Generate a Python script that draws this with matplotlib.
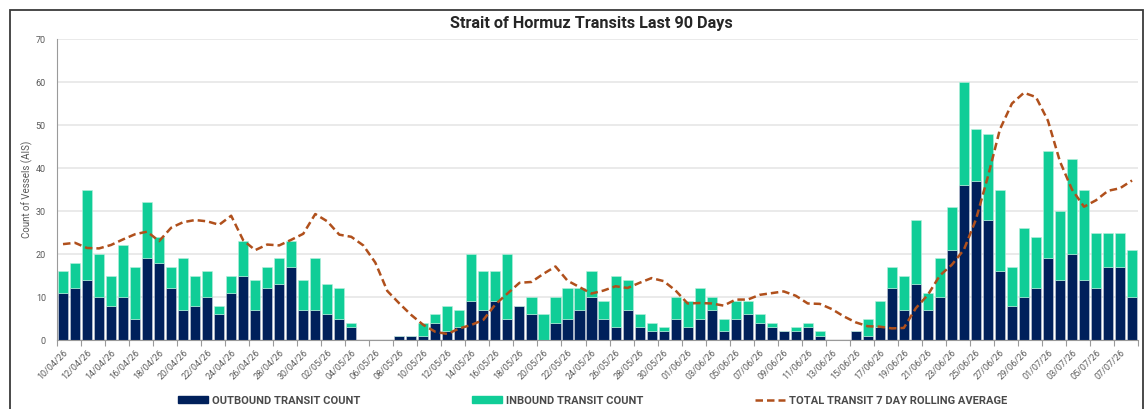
import numpy as np
import matplotlib.pyplot as plt
from matplotlib.patches import Rectangle
from matplotlib.lines import Line2D
from matplotlib.patches import Patch

# daily counts, 10/04/26 .. 08/07/26 (90 days)
outbound = [11, 12, 14, 10, 8, 10, 5, 19, 18, 12,
            7, 8, 10, 6, 11, 15, 7, 12, 13, 17,
            7, 7, 6, 5, 3, 0, 0, 0, 1, 1,
            1, 4, 2, 3, 9, 7, 9, 5, 8, 6,
            0, 4, 5, 7, 10, 5, 3, 7, 3, 2,
            2, 5, 3, 5, 7, 2, 5, 6, 4, 3,
            2, 2, 3, 1, 0, 0, 2, 1, 3, 12,
            7, 13, 7, 10, 21, 36, 37, 28, 16, 8,
            10, 12, 19, 14, 20, 14, 12, 17, 17, 10]
inbound = [5, 6, 21, 10, 7, 12, 12, 13, 6, 5,
           12, 7, 6, 2, 4, 8, 7, 5, 6, 6,
           7, 12, 7, 7, 1, 0, 0, 0, 0, 0,
           3, 2, 6, 4, 11, 9, 7, 15, 0, 4,
           6, 6, 7, 5, 6, 4, 12, 7, 3, 2,
           1, 5, 6, 7, 3, 3, 4, 3, 2, 1,
           0, 1, 1, 1, 0, 0, 0, 4, 6, 5,
           8, 15, 4, 9, 10, 24, 12, 20, 19, 9,
           16, 12, 25, 16, 22, 21, 13, 8, 8, 11]
rolling_avg = [22.3, 22.6, 21.4, 21.3, 22.1, 23.4, 24.6, 25.2, 23.0, 26.1,
               27.4, 27.9, 27.6, 26.8, 28.9, 23.2, 20.9, 22.2, 22.0, 23.3,
               24.7, 29.3, 27.6, 24.5, 24.0, 22.0, 18.0, 11.4, 8.5, 5.8,
               3.5, 1.9, 1.4, 2.7, 3.5, 4.7, 8.3, 10.8, 13.3, 13.5,
               15.4, 17.1, 13.8, 12.3, 10.8, 11.5, 12.5, 12.1, 13.3, 14.4,
               13.7, 11.5, 8.5, 8.6, 8.5, 8.0, 9.4, 9.4, 10.5, 10.9,
               11.3, 10.3, 8.5, 8.4, 7.2, 5.5, 4.1, 3.2, 3.1, 2.7,
               2.8, 7.4, 10.5, 15.0, 17.5, 21.0, 28.0, 38.0, 49.0, 55.0,
               57.5, 56.5, 51.0, 41.5, 35.0, 31.0, 32.5, 34.7, 35.3, 37.1]
tick_labels = ['10/04/26', '12/04/26', '14/04/26', '16/04/26', '18/04/26', '20/04/26',
               '22/04/26', '24/04/26', '26/04/26', '28/04/26', '30/04/26', '02/05/26',
               '04/05/26', '06/05/26', '08/05/26', '10/05/26', '12/05/26', '14/05/26',
               '16/05/26', '18/05/26', '20/05/26', '22/05/26', '24/05/26', '26/05/26',
               '28/05/26', '30/05/26', '01/06/26', '03/06/26', '05/06/26', '07/06/26',
               '09/06/26', '11/06/26', '13/06/26', '15/06/26', '17/06/26', '19/06/26',
               '21/06/26', '23/06/26', '25/06/26', '27/06/26', '29/06/26', '01/07/26',
               '03/07/26', '05/07/26', '07/07/26']

NAVY = '#00205b'
GREEN = '#10cd97'
RUST = '#b0501c'
GREY = '#595959'

plt.rcParams['font.family'] = ['Roboto', 'DejaVu Sans']

fig = plt.figure(figsize=(11.47, 4.09), dpi=100)
ax = fig.add_axes([0.0497, 0.1687, 0.9425, 0.7359])

x = np.arange(len(outbound))
ax.bar(x, outbound, width=0.84, color=NAVY, edgecolor='#c8d0dc', linewidth=0.4, zorder=2)
ax.bar(x, inbound, bottom=outbound, width=0.84, color=GREEN, edgecolor='#b8f0dc',
       linewidth=0.4, zorder=2)
ax.plot(x, rolling_avg, color=RUST, lw=1.8, ls=(0, (3, 1.6)), zorder=3)

ax.set_xlim(-0.5, len(x) - 0.5)
ax.set_ylim(0, 70)
ax.set_yticks(range(0, 71, 10))
ax.grid(axis='y', color='#e6e6e6', lw=1.2, zorder=0)
ax.tick_params(axis='y', length=0, labelsize=6.5, labelcolor=GREY, pad=8)
for s in ['top', 'right']:
    ax.spines[s].set_visible(False)
ax.spines['left'].set_color('#9a9a9a')
ax.spines['left'].set_linewidth(0.8)
ax.spines['bottom'].set_color('#9a9a9a')
ax.spines['bottom'].set_linewidth(0.8)

# tick marks between categories, labels under every second day
ax.set_xticks(np.arange(-0.5, len(x), 2))
ax.set_xticklabels([])
ax.tick_params(axis='x', which='major', length=4, color='#9a9a9a', width=0.8)
ax.set_xticks(np.arange(0, len(x), 2), minor=True)
ax.set_xticklabels(tick_labels, minor=True, rotation=45, ha='right',
                   rotation_mode='anchor', fontsize=6.5, color=GREY)
ax.tick_params(axis='x', which='minor', length=0, pad=6)

ax.set_ylabel('Count of Vessels (AIS)', fontsize=7, color=GREY, labelpad=2)

fig.text(0.516, 0.943, 'Strait of Hormuz Transits Last 90 Days', ha='center', va='center',
         fontsize=11.7, fontweight='bold', color='#262626')

handles = [Patch(color=NAVY), Patch(color=GREEN),
           Line2D([0], [0], color=RUST, lw=1.8, ls=(0, (3, 1.6)))]
labels = ['OUTBOUND TRANSIT COUNT', 'INBOUND TRANSIT COUNT',
          'TOTAL TRANSIT 7 DAY ROLLING AVERAGE']
fig.legend(handles, labels, loc='center', bbox_to_anchor=(0.5166, 0.02), ncol=3,
           frameon=False, labelcolor='#4a4a4a', handlelength=2.7,
           handleheight=0.6, columnspacing=10.0, handletextpad=0.4,
           prop={'weight': 'bold', 'size': 8})

# outer chart frame
fig.patches.append(Rectangle((10 / 1147, -0.05), 1133 / 1147, 1 - 10 / 409 + 0.05,
                             transform=fig.transFigure, fill=False,
                             edgecolor='#3a3a3a', lw=1.3))

fig.savefig('out.png', dpi=100)
